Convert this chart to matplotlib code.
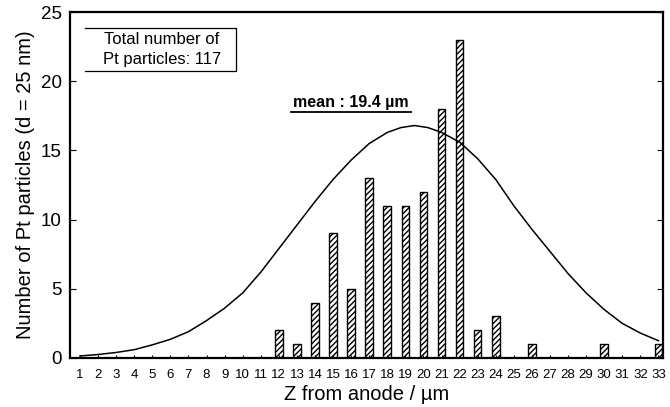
import numpy as np
import matplotlib.pyplot as plt

plt.rcParams['font.family'] = ['Liberation Sans', 'DejaVu Sans']

# histograma de particulas
z_bins = list(range(1, 34))
conteo = [0, 0, 0, 0, 0, 0, 0, 0, 0, 0, 0, 2, 1, 4, 9, 5, 13, 11, 11, 12,
          18, 23, 2, 3, 0, 1, 0, 0, 0, 1, 0, 0, 1]

# curva ajustada
curva_z = [1, 2, 3, 4, 5, 6, 7, 8, 9, 10, 11, 12, 13, 14, 15, 16, 17, 18,
           18.75, 19.5, 20.25, 21, 22, 23, 24, 25, 26, 27, 28, 29, 30, 31,
           32, 33]
curva_y = [0.15, 0.25, 0.4, 0.6, 0.95, 1.35, 1.9, 2.7, 3.6, 4.7, 6.2, 7.9,
           9.6, 11.3, 12.9, 14.3, 15.5, 16.3, 16.65, 16.8, 16.65, 16.3,
           15.6, 14.4, 12.9, 11.0, 9.3, 7.7, 6.1, 4.7, 3.5, 2.5, 1.8, 1.25]

fig = plt.figure(figsize=(6.7, 4.07), dpi=100)
ax = fig.add_axes([0.1045, 0.1204, 0.885, 0.85])

ax.bar(z_bins, conteo, width=0.42, color='white', edgecolor='black',
       hatch='//////', linewidth=1.0)
ax.plot(curva_z, curva_y, color='black', linewidth=1.1)

ax.set_xlim(0.45, 33.25)
ax.set_ylim(0, 25)
ax.set_xticks(z_bins)
ax.set_yticks([0, 5, 10, 15, 20, 25])
ax.tick_params(axis='x', direction='in', length=2, labelsize=9.5, pad=8)
ax.tick_params(axis='y', direction='in', length=4, labelsize=13.5,
               right=True, pad=6)
for s in ax.spines.values():
    s.set_linewidth(1.6)

ax.set_xlabel("Z from anode / µm", fontsize=14.5, labelpad=3)
ax.set_ylabel("Number of Pt particles (d = 25 nm)", fontsize=14.5, labelpad=4)

# recuadro (sin borde izquierdo)
ax.plot([0.025, 0.28, 0.28, 0.025], [0.954, 0.954, 0.83, 0.83],
        color='black', linewidth=0.9, transform=ax.transAxes)
ax.text(0.155, 0.892, "Total number of\nPt particles: 117", fontsize=12,
        ha='center', va='center', linespacing=1.45, transform=ax.transAxes)

ax.text(16.0, 17.95, "mean : 19.4 µm", fontsize=11.5, fontweight='bold',
        ha='center', va='bottom')
ax.plot([12.7, 19.3], [17.8, 17.8], color='black', linewidth=1.3)

fig.savefig("out.png", dpi=100)
